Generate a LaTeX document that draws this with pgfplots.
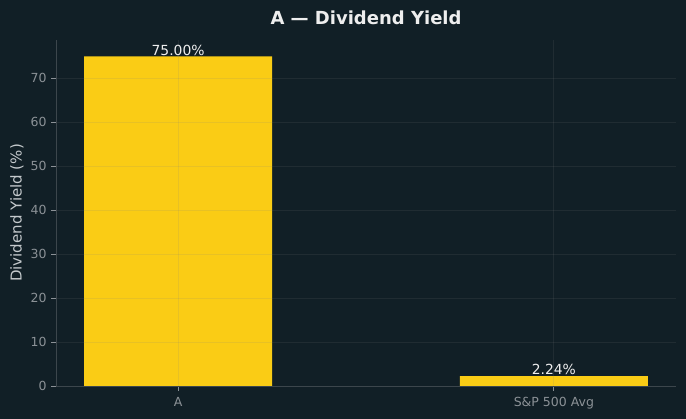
\documentclass[border=0pt]{standalone}
\usepackage{pgfplots}
\pgfplotsset{compat=1.18}
\usepackage{fontspec}
\setmainfont{DejaVu Sans}
\definecolor{bg}{HTML}{111F26}
\definecolor{barc}{HTML}{FACC15}
\definecolor{tickc}{HTML}{8B9196}
\definecolor{spine}{HTML}{3C464C}
\definecolor{labc}{HTML}{C5CACD}
\definecolor{titlec}{HTML}{EEEEEE}
\begin{document}
\begin{tikzpicture}[x=1pt,y=1pt]
\fill[bg] (0,0) rectangle (686,419);
\path[use as bounding box] (0,0) rectangle (686,419);
\node[font=\bfseries\fontsize{18}{20}\selectfont, text=titlec, anchor=center] at (366,401) {A — Dividend Yield};
\begin{axis}[
  at={(56pt,33pt)}, anchor=south west,
  scale only axis, width=620pt, height=346pt,
  xmin=-0.325, xmax=1.325, ymin=0, ymax=78.75,
  axis x line*=bottom, axis y line*=left,
  axis line style={spine, line width=0.8pt},
  tick align=outside, major tick length=4.9pt,
  tick style={tickc, line width=0.8pt},
  xtick={0,1}, xticklabels={A, S\&P 500 Avg},
  ytick={0,10,...,70},
  /pgf/number format/assume math mode=true,
  ticklabel style={font=\fontsize{12.5}{14}\selectfont, text=tickc},
  xticklabel style={yshift=-3pt},
  yticklabel style={xshift=-1pt},
  ylabel={Dividend Yield (\%)},
  ylabel style={font=\fontsize{15}{17}\selectfont, text=labc, at={(axis description cs:-0.0629,0.5)}, anchor=center},
  grid=major,
  major grid style={gray, opacity=0.14, line width=0.8pt},
  axis on top,
  ybar, bar width=0.5, bar shift=0pt,
  nodes near coords,
  point meta=explicit symbolic,
  every node near coord/.append style={font=\fontsize{13.9}{15}\selectfont, text=titlec, anchor=south, inner sep=1pt},
]
\addplot[fill=barc, draw=none] coordinates {(0,75) [75.00\%] (1,2.24) [2.24\%]};
\end{axis}
\end{tikzpicture}
\end{document}
